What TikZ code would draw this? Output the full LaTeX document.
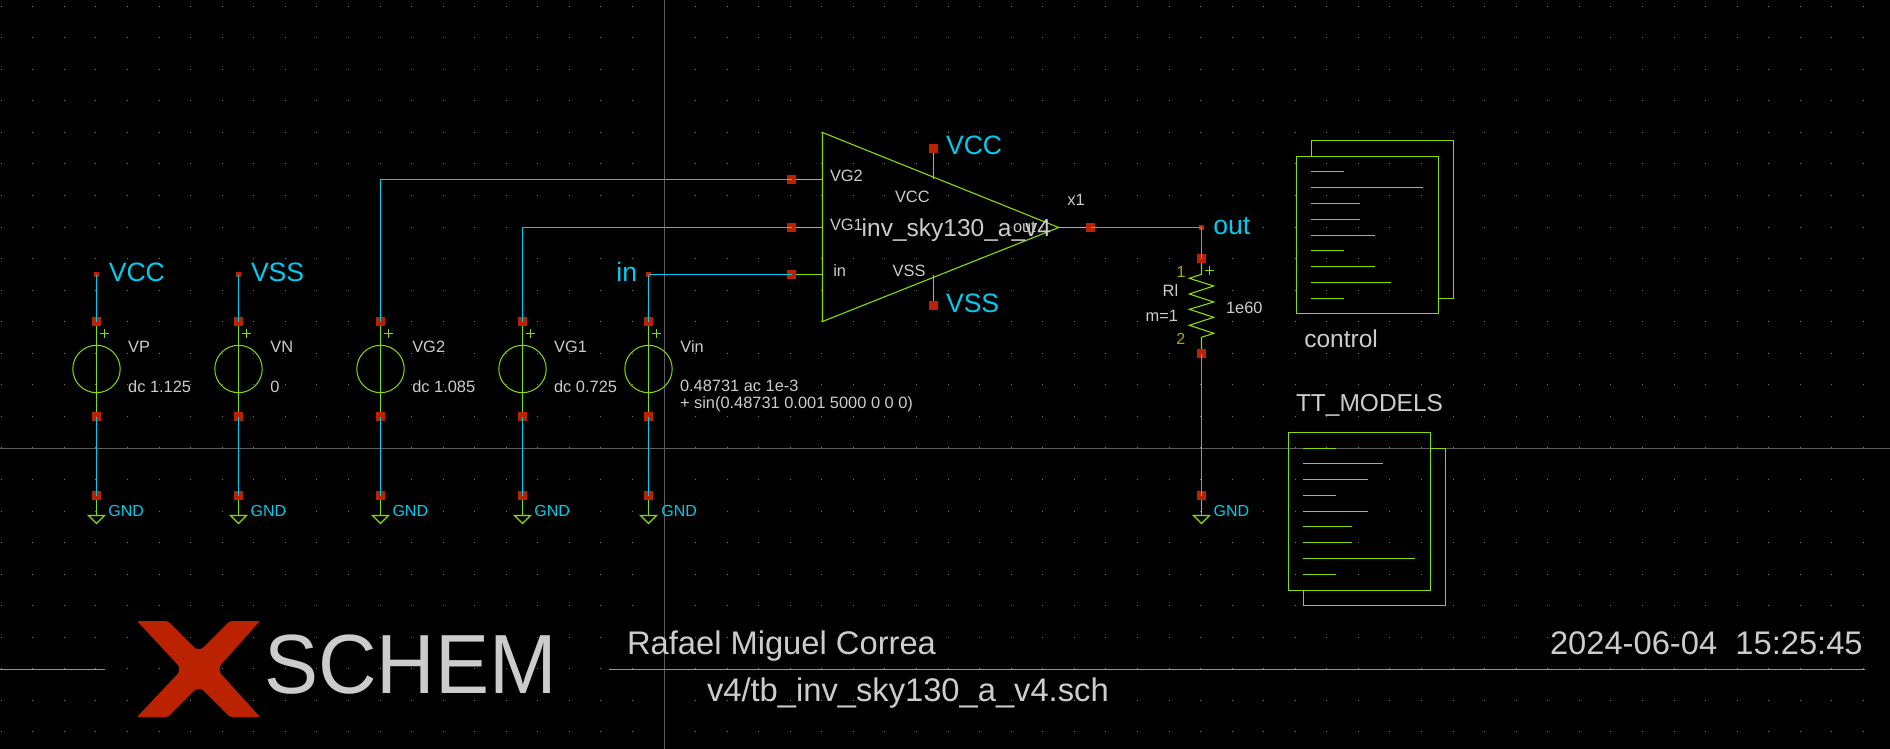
\documentclass[tikz,border=0pt]{standalone}
\usepackage{fontspec}
\setmainfont{Liberation Sans}
\newcommand{\fpx}[1]{\fontsize{#1}{#1}\selectfont}
\definecolor{wirec}{HTML}{00CCEE}
\definecolor{symc}{HTML}{88DD00}
\definecolor{pinc}{HTML}{BB2200}
\definecolor{textc}{HTML}{CCCCCC}
\definecolor{numc}{HTML}{A8A800}
\definecolor{crossc}{HTML}{5E5E5E}
\definecolor{gridc}{HTML}{777777}
\pgfdeclarelayer{under}
\pgfdeclarelayer{base}
\pgfdeclarelayer{over}
\pgfsetlayers{base,under,main,over}
\tikzset{
  x=0.5pt,y=-0.5pt,
  wire/.style={draw=wirec,line width=0.55pt},
  sym/.style={draw=symc,line width=0.55pt},
  doc/.style={draw=symc,line width=0.8pt},
  pinbox/.style={rectangle,fill=pinc,inner sep=0pt,minimum size=4.5pt},
  smallpin/.style={rectangle,fill=pinc,inner sep=0pt,minimum size=2.5pt},
  srcring/.style={circle,draw=symc,line width=0.5pt,inner sep=0pt,minimum size=23.7pt},
  lab/.style={anchor=base west,inner sep=0pt,outer sep=0pt,text=textc},
  small/.style={lab,font=\fpx{8.2}},
  mid/.style={lab,font=\fpx{12.25}},
  netbig/.style={lab,text=wirec,font=\fpx{13.3}},
  netgnd/.style={lab,text=wirec,font=\fpx{8}},
  numlab/.style={lab,text=numc,font=\fpx{8}},
  big/.style={lab,font=\fpx{16.35}},
}
\begin{document}
\begin{tikzpicture}
\useasboundingbox (0,0) rectangle (1890,749);
\begin{pgfonlayer}{base}
\fill[black] (0,0) rectangle (1890,749);
\foreach \i in {0,...,59}{\foreach \j in {0,...,23}{
  \fill[gridc] ({0.8+31.56*\i},{5.6+31.56*\j}) rectangle ++(1,1);
}}
\coordinate (chA) at (664.5,0); \coordinate (chB) at (664.5,749);
\coordinate (chC) at (0,448.5); \coordinate (chD) at (1890,448.5);
\draw[crossc,line width=0.5pt] (chA) -- (chB);
\draw[crossc,line width=0.5pt] (chC) -- (chD);
\end{pgfonlayer}
% bottom rules
\coordinate (ruleA1) at (0,669.5); \coordinate (ruleA2) at (105,669.5);
\coordinate (ruleB1) at (609,669.5); \coordinate (ruleB2) at (1865,669.5);
\draw[wire] (ruleA1) -- (ruleA2);
\draw[wire] (ruleB1) -- (ruleB2);
% pins and sources
\foreach \n/\x in {vp/96.5,vn/238.5,vgb/380.5,vga/522.5,vi/648.5}{
  \node[pinbox] (\n up) at (\x,321.5) {};
  \node[pinbox] (\n lo) at (\x,416.5) {};
  \node[pinbox] (\n gnd) at (\x,495.5) {};
  \coordinate (\n g) at (\x,515.5);
  \begin{pgfonlayer}{under}
  \node[srcring] (\n ring) at (\x,369) {};
  \draw[sym] (\n up.center) -- (\n lo.center);
  \draw[sym] (\n gnd.center) -- (\n g);
  \draw[sym] (\n g) ++(-8,0) -- ++(16,0) -- ++(-8,8) -- cycle;
  \draw[sym] (\n up.center) ++(8,12) ++(-4.5,0) -- ++(9,0) ++(-4.5,-4.5) -- ++(0,9);
  \end{pgfonlayer}
  \begin{pgfonlayer}{over}
  \draw[wire] (\n lo.center) -- (\n gnd.center);
  \end{pgfonlayer}
}
% top net pins
\node[smallpin] (vccp) at (96.5,274.5) {};
\node[smallpin] (vssp) at (238.5,274.5) {};
\node[smallpin] (inp) at (648.5,274.5) {};
% subcircuit symbol
\node[pinbox] (xvgb) at (791.5,179.5) {};
\node[pinbox] (xvga) at (791.5,227.5) {};
\node[pinbox] (xin) at (791.5,274.5) {};
\node[pinbox] (xout) at (1090.5,227.5) {};
\node[pinbox] (xvcc) at (933.5,148.5) {};
\node[pinbox] (xvss) at (933.5,305.5) {};
\coordinate (tl) at (822.5,132.5);
\coordinate (bl) at (822.5,321.5);
\coordinate (ap) at (1058.7,227.5);
\begin{pgfonlayer}{under}
\draw[sym] (tl) -- (ap) -- (bl) -- cycle;
\draw[sym] (xvgb.center) -- (xvgb -| tl);
\draw[sym] (xvga.center) -- (xvga -| tl);
\draw[sym] (xin.center) -- (xin -| tl);
\draw[sym] (xvcc.center) -- ++(0,30);
\draw[sym] (xvss.center) -- ++(0,-31);
\draw[sym] (ap) -- (xout.center);
\end{pgfonlayer}
% resistor
\node[smallpin] (outp) at (1201.5,227.5) {};
\node[pinbox] (rtop) at (1201.5,258.5) {};
\node[pinbox] (rbot) at (1201.5,353.5) {};
\node[pinbox] (rgnd) at (1201.5,495.5) {};
\coordinate (rg) at (1201.5,515.5);
\begin{pgfonlayer}{under}
\draw[sym] (rtop.center) -- (1201.5,274.3) -- (1189.3,278.3) -- (1213.7,286) -- (1189.3,294)
  -- (1213.7,302) -- (1189.3,309.3) -- (1213.7,317.3) -- (1189.3,325.3) -- (1213.7,333.3)
  -- (1201.5,337.3) -- (rbot.center);
\draw[sym] (1205,270.5) -- (1214,270.5) (1209.5,266) -- (1209.5,275);
\draw[sym] (rgnd.center) -- (rg);
\draw[sym] (rg) ++(-8,0) -- ++(16,0) -- ++(-8,8) -- cycle;
\end{pgfonlayer}
% wires
\begin{pgfonlayer}{over}
\draw[wire] (vccp.center) -- (vpup.center);
\draw[wire] (vssp.center) -- (vnup.center);
\draw[wire] (inp.center) -- (viup.center);
\draw[wire] (vgbup.center) |- (xvgb.center);
\draw[wire] (vgaup.center) |- (xvga.center);
\draw[wire] (inp.center) -- (xin.center);
\draw[wire] (xout.center) -- (outp.center) -- (rtop.center);
\draw[wire] (rbot.center) -- (rgnd.center);
\end{pgfonlayer}
% control document
\draw[doc] (1296.5,156.5) rectangle (1438.5,313.5);
\draw[doc] (1311.5,156.5) -- (1311.5,140.5) -- (1453.5,140.5) -- (1453.5,298.5) -- (1438.5,298.5);
\foreach \e/\y in {1343.7/171.5,1423/187.5,1360/203.5,1360/219.5,1375/235.5,1343.7/250.5,1375/266.5,1391/282.5,1343.7/298.5}{
  \draw[doc] (1311,\y) -- (\e,\y);
}
% TT_MODELS document
\draw[doc] (1288.5,432.5) rectangle (1430.5,590.5);
\draw[doc] (1430.5,448.5) -- (1445.5,448.5) -- (1445.5,605.5) -- (1303.5,605.5) -- (1303.5,590.5);
\foreach \e/\y in {1335.7/448.5,1382.7/463.5,1367.7/479.5,1335.7/495.5,1367.7/511.5,1351.7/526.5,1351.7/542.5,1415/558.5,1335.7/574.5}{
  \draw[doc] (1303,\y) -- (\e,\y);
}
% net labels
\node[netbig] (lvcc) at (108.8,281.7) {VCC};
\node[netbig] (lvss) at (251,281.7) {VSS};
\node[netbig] (lin) at (616.4,281.7) {in};
\node[netbig] (lxvcc) at (946,155) {VCC};
\node[netbig] (lxvss) at (946,312.7) {VSS};
\node[netbig] (lout) at (1213.3,234) {out};
\foreach \n/\x in {a/108.4,b/250.7,c/392.5,d/534.3,e/661.4,f/1213.6}{
  \node[netgnd] (gnd\n) at (\x,516) {GND};
}
% source labels
\node[small] (tvp) at (128.2,352) {VP};
\node[small] (dvp) at (128.2,392) {dc 1.125};
\node[small] (tvn) at (270.4,352) {VN};
\node[small] (dvn) at (270.4,392) {0};
\node[small] (tvg2) at (412.3,352) {VG2};
\node[small] (dvg2) at (412.3,392) {dc 1.085};
\node[small] (tvg1) at (554.1,352) {VG1};
\node[small] (dvg1) at (554.1,392) {dc 0.725};
\node[small] (tvin) at (680.4,352) {Vin};
\node[small] (dvin) at (680,391.7) {0.48731 ac 1e-3};
\node[small] (dvin2) at (680,408.3) {+ sin(0.48731 0.001 5000 0 0 0)};
% symbol labels
\node[small] (pvg2) at (830,182) {VG2};
\node[small] (pvg1) at (830,230) {VG1};
\node[small] (pin) at (833.3,276.7) {in};
\node[small] (pvcc) at (895,202.3) {VCC};
\node[small] (pvss) at (892.7,276.7) {VSS};
\node[small] (pout) at (1013,232.7) {out};
\node[small] (px1) at (1067.3,205.3) {x1};
\node[mid] (sname) at (861.7,236.7) {inv\_sky130\_a\_v4};
\node[small] (rname) at (1162.7,296.7) {Rl};
\node[small] (rm) at (1145.7,321) {m=1};
\node[small] (rval) at (1226,313.3) {1e60};
\node[numlab] (rn1) at (1176.7,277.3) {1};
\node[numlab] (rn2) at (1176.3,344) {2};
\node[mid] (lctl) at (1304.3,347.7) {control};
\node[mid] (ltt) at (1296,411.7) {TT\_MODELS};
% title
\node[big] (tauth) at (627,654) {Rafael Miguel Correa};
\node[big] (tdate) at (1550,654) {2024-06-04\ \ 15:25:45};
\node[big] (tfile) at (707,701.7) {v4/tb\_inv\_sky130\_a\_v4.sch};
\node[lab,font=\fpx{42},xscale=0.965] (tlogo) at (264,693.3) {SCHEM};
% logo
\fill[pinc] (137,621) [rounded corners=1pt] -- (168,621) [rounded corners=3.5pt] -- (198.8,652) [rounded corners=1pt] -- (229.8,621) -- (260,621) [rounded corners=3.5pt]
  -- (216.8,669.3) [rounded corners=1pt] -- (260,717) -- (229.8,717) [rounded corners=3.5pt] -- (198.8,686) [rounded corners=1pt] -- (168,717) -- (137,717) [rounded corners=3.5pt]
  -- (182,669.3) [rounded corners=1pt] -- cycle;
\end{tikzpicture}
\end{document}
